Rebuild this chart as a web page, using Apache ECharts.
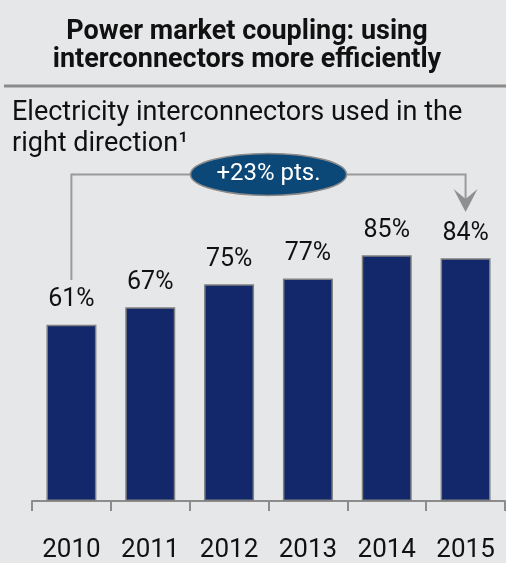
<!DOCTYPE html>
<html>
<head>
<meta charset="UTF-8">
<title>Power market coupling</title>
<script src="https://cdn.jsdelivr.net/npm/echarts@6/dist/echarts.min.js"></script>
</head>
<body style="margin:0;background:#e6e7e9;">
<div id="main" style="width:506px;height:563px;"></div>
<script type="text/javascript">
// data
var years = ['2010', '2011', '2012', '2013', '2014', '2015'];
var shares = [61, 67, 75, 77, 85, 84];
var changeText = '+23% pts.';
var titleText = 'Power market coupling: using\ninterconnectors more efficiently';
var subtitleText = 'Electricity interconnectors used in the\nright direction\u00b9';

var FONT = 'Roboto, "Noto Sans", sans-serif';
var myChart = echarts.init(document.getElementById('main'));

myChart.setOption({
    backgroundColor: '#e6e7e9',
    animation: false,
    grid: { left: 32, right: 1, top: 212, bottom: 57 },
    xAxis: {
        type: 'category',
        data: years,
        axisLine: { lineStyle: { color: '#8c8c8c', width: 2 } },
        axisTick: { show: true, interval: 0, alignWithLabel: false, length: 10,
            lineStyle: { color: '#8c8c8c', width: 2 } },
        axisLabel: { interval: 0, margin: 36, fontSize: 26, color: '#111', fontFamily: FONT }
    },
    yAxis: { type: 'value', min: 0, max: 100, show: false },
    series: [{
        type: 'bar',
        data: shares,
        barWidth: 50,
        itemStyle: { color: '#12286a', borderColor: '#808080', borderWidth: 1.5 },
        label: {
            show: true, position: 'top', distance: 12,
            formatter: '{c}%', fontSize: 25, color: '#111', fontFamily: FONT
        }
    }]
});

// bracket annotation from first to last bar
var n = shares.length - 1;
var p0 = myChart.convertToPixel({ seriesIndex: 0 }, [0, shares[0] + 15.5]);
var p1 = myChart.convertToPixel({ seriesIndex: 0 }, [n, shares[n] + 16]);
var yLine = myChart.convertToPixel({ yAxisIndex: 0 }, 113);
var midX = (p0[0] + p1[0]) / 2;

myChart.setOption({
    graphic: [
        {
            type: 'text', x: 247, y: 46,
            style: { text: titleText, fontSize: 27, fontWeight: 'bold', fontFamily: FONT,
                fill: '#111', align: 'center', verticalAlign: 'middle', lineHeight: 28 }
        },
        {
            type: 'line',
            shape: { x1: 4, y1: 86, x2: 506, y2: 86 },
            style: { stroke: '#8b8b8b', lineWidth: 3 }
        },
        {
            type: 'text', x: 12, y: 129,
            style: { text: subtitleText, fontSize: 27, fontFamily: FONT, fill: '#111',
                align: 'left', verticalAlign: 'middle', lineHeight: 31 }
        },
        {
            type: 'polyline',
            shape: { points: [[p0[0], p0[1]], [p0[0], yLine], [p1[0], yLine], [p1[0], p1[1] - 12]] },
            style: { stroke: '#9a9a9a', lineWidth: 2, fill: null }
        },
        {
            type: 'polygon',
            shape: { points: [[p1[0] - 12, p1[1] - 23], [p1[0], p1[1] - 13], [p1[0] + 12, p1[1] - 23], [p1[0], p1[1]]] },
            style: { fill: '#8f8f8f' }
        },
        {
            type: 'ellipse', z: 10,
            shape: { cx: midX, cy: yLine, rx: 78, ry: 21 },
            style: { fill: '#0b4777', stroke: '#8a8a8a', lineWidth: 1.5 }
        },
        {
            type: 'text', z: 11, x: midX, y: yLine,
            style: { text: changeText, fontSize: 24, fontFamily: FONT, fill: '#ffffff',
                align: 'center', verticalAlign: 'middle' }
        }
    ]
});
</script>
</body>
</html>
